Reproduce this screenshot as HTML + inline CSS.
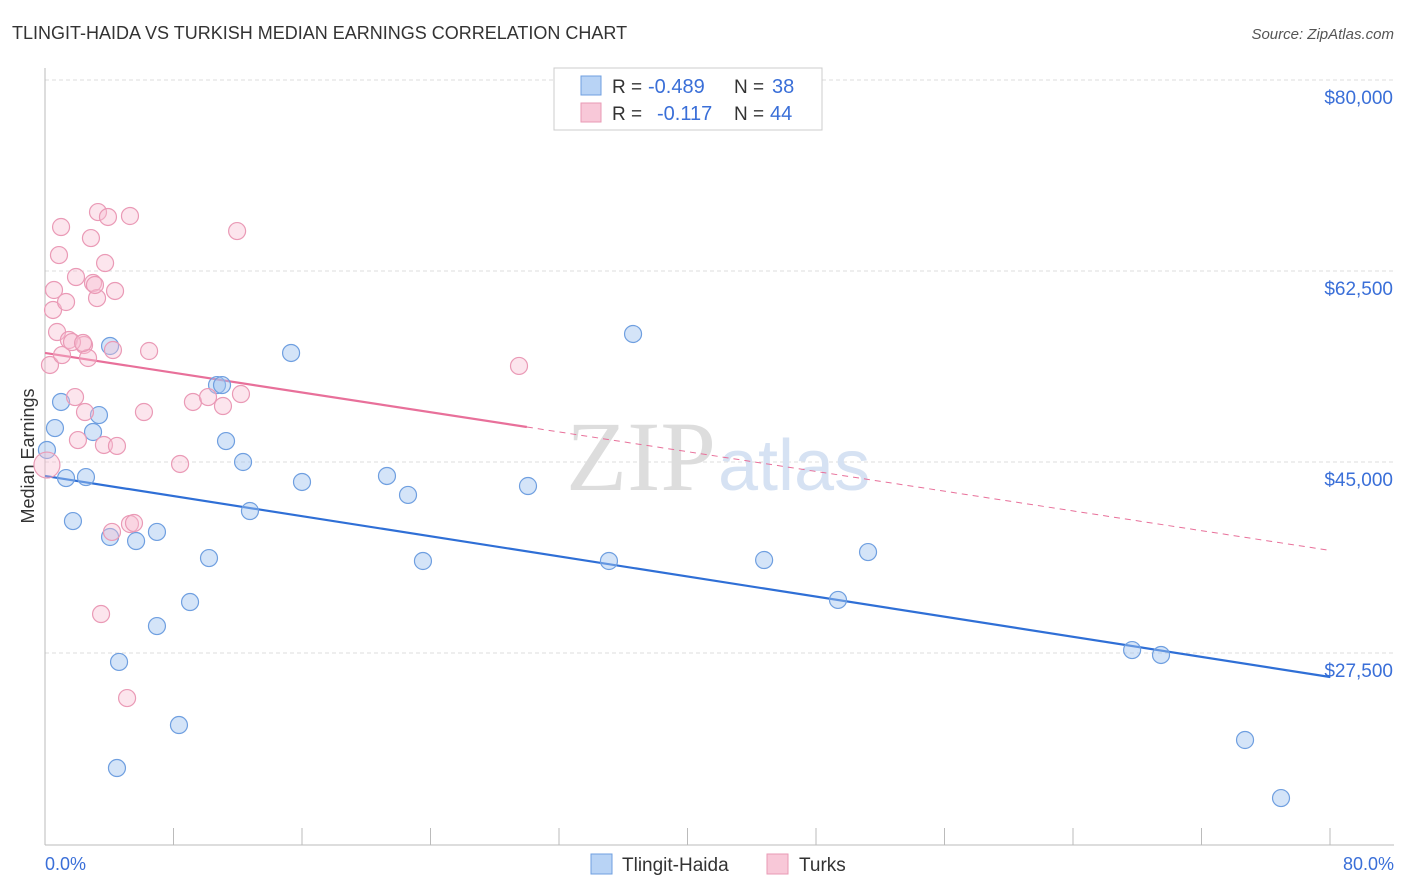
<!DOCTYPE html>
<html><head><meta charset="utf-8"><style>
body{margin:0;background:#fff;font-family:"Liberation Sans",sans-serif;}
svg{display:block}
</style></head><body>
<svg id="chart" width="1406" height="892">
<text x="12" y="39" font-size="18" fill="#333">TLINGIT-HAIDA VS TURKISH MEDIAN EARNINGS CORRELATION CHART</text>
<text x="1394" y="39" font-size="15" fill="#555" font-style="italic" text-anchor="end">Source: ZipAtlas.com</text>
<g id="grid"></g>
<text x="716" y="490" font-size="100" fill="#ddd" text-anchor="end" font-family="Liberation Serif">ZIP</text>
<text x="718" y="490" font-size="72" fill="#d6e2f3">atlas</text>
<line x1="45" y1="68" x2="45" y2="845" stroke="#bbb"/>
<line x1="45" y1="845" x2="1394" y2="845" stroke="#bbb"/>
<text transform="translate(34,456) rotate(-90)" font-size="18" fill="#333" text-anchor="middle">Median Earnings</text>
<text x="45" y="870" font-size="18" fill="#3a6fd8">0.0%</text>
<text x="1394" y="870" font-size="18" fill="#3a6fd8" text-anchor="end">80.0%</text>
<g id="lines"></g>
<g id="pts"></g>
<g>
<rect x="554" y="68" width="268" height="62" fill="#fff" stroke="#ccc"/>
<rect x="581" y="76" width="20" height="19" fill="#b8d3f5" stroke="#6f9fe0"/>
<rect x="581" y="103" width="20" height="19" fill="#f8c8d8" stroke="#e99ab5"/>
<text x="612" y="93" font-size="19" fill="#333">R =</text>
<text x="648" y="93" font-size="20" fill="#3a6fd8">-0.489</text>
<text x="734" y="93" font-size="19" fill="#333">N =</text>
<text x="772" y="93" font-size="20" fill="#3a6fd8">38</text>
<text x="612" y="120" font-size="19" fill="#333">R =</text>
<text x="657" y="120" font-size="20" fill="#3a6fd8">-0.117</text>
<text x="734" y="120" font-size="19" fill="#333">N =</text>
<text x="770" y="120" font-size="20" fill="#3a6fd8">44</text>
</g>
<g>
<rect x="591" y="854" width="21" height="20" fill="#b8d3f5" stroke="#6f9fe0"/>
<text x="622" y="871" font-size="19" fill="#333">Tlingit-Haida</text>
<rect x="767" y="854" width="21" height="20" fill="#f8c8d8" stroke="#e99ab5"/>
<text x="799" y="871" font-size="19" fill="#333">Turks</text>
</g>
</svg>
<script>
const yTicks=[80000,62500,45000,27500];
const yTickLabels=["$80,000","$62,500","$45,000","$27,500"];
const xTicks=[0,8,16,24,32,40,48,56,64,72,80];
const blueX=[0.12,0.62,1.0,1.31,1.74,2.55,2.99,3.36,4.05,4.05,4.61,4.48,5.67,6.97,6.97,8.34,9.03,10.21,10.71,11.02,11.27,12.33,12.76,15.32,16.0,21.29,22.6,23.53,30.07,35.11,36.61,44.77,49.37,51.24,67.68,69.48,74.71,76.95];
const blueY=[46100,48110,50500,43530,39590,43620,47750,49300,38130,55630,26680,16960,37760,38590,29970,20900,32170,36200,52050,52050,46920,45000,40510,54990,43170,43720,41980,35930,42800,35930,56730,36020,32360,36750,27770,27320,19530,14210];
const pinkX=[0.12,0.31,0.5,0.56,0.75,0.87,1.0,1.31,1.49,1.87,1.93,2.05,2.43,2.49,2.86,2.99,3.24,3.3,3.49,3.67,3.74,3.92,4.17,4.23,4.36,4.48,5.11,5.29,5.29,5.54,6.16,6.48,8.41,9.21,10.15,11.08,11.96,12.2,29.51,1.06,1.68,2.68,2.37,3.11];
const pinkY=[44720,53890,58930,60760,56910,63960,66530,59660,56180,50950,61950,47010,55720,49580,65520,61400,60020,67900,31070,46560,63230,67450,38590,55260,60670,46470,23370,67540,39320,39410,49580,55170,44820,50500,50950,50130,66160,51230,53800,54800,55990,54530,55900,61220];
const blueTrend=[43720,25300];
const pinkTrend=[54990,36900];
const pinkSolidEnd=30;
const NS="http://www.w3.org/2000/svg";
const xs=v=>45+v/80*1285;
const ys=v=>80+(80000-v)*191/17500;
function mk(tag,attrs,parent){const e=document.createElementNS(NS,tag);for(const k in attrs)e.setAttribute(k,attrs[k]);document.getElementById(parent).appendChild(e);return e;}
yTicks.forEach((t,i)=>{
 const l=mk('line',{x1:45,x2:1394,y1:ys(t),y2:ys(t),stroke:'#ddd','stroke-dasharray':'4,3'},'grid');
 
 
 const tx=mk('text',{x:1393,y:ys(t)+24,'font-size':19,fill:'#3a6fd8','text-anchor':'end'},'grid');
 tx.textContent=yTickLabels[i];
 
 
});
xTicks.forEach(t=>{
 const l=mk('line',{x1:xs(t),x2:xs(t),y1:828,y2:845,stroke:'#bbb'},'grid');
 
 
});
function trend(tr,end,color,name){
 const f=x=>tr[0]+(tr[1]-tr[0])*x/80;
 const s=mk('line',{x1:xs(0),y1:ys(f(0)),x2:xs(end),y2:ys(f(end)),stroke:color,'stroke-width':2.2},'lines');
 
 
 if(end<80){const d=mk('line',{x1:xs(end),y1:ys(f(end)),x2:xs(80),y2:ys(f(80)),stroke:color,'stroke-width':1,'stroke-dasharray':'6,5'},'lines');
 
 }
}
blueX.forEach((x,i)=>{const c=mk('circle',{cx:xs(x),cy:ys(blueY[i]),r:8.5,fill:'rgba(160,196,240,0.45)',stroke:'#6f9fe0','stroke-width':1.2},'pts');
 
 });
pinkX.forEach((x,i)=>{const c=mk('circle',{cx:xs(x),cy:ys(pinkY[i]),r:i==0?13:8.5,fill:'rgba(248,190,210,0.4)',stroke:'#ea9ab6','stroke-width':1.2},'pts');
 
 });
trend(blueTrend,80,'#2f6fd6','tlingit-haida-trendline');
trend(pinkTrend,pinkSolidEnd,'#e8709a','turks-trendline');
</script>
</body></html>
